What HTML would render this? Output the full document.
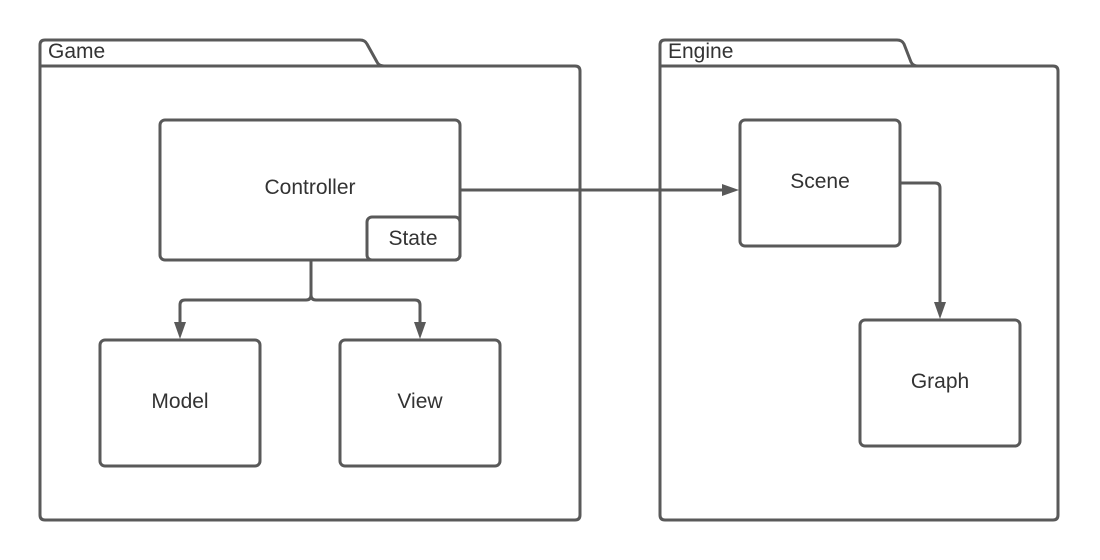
<!DOCTYPE html>
<html><head><meta charset="utf-8"><style>
html,body{margin:0;padding:0;background:#fff;}
svg{display:block}
text{font-family:"Liberation Sans",sans-serif;fill:#333;}
</style></head><body>
<svg width="1100" height="560" viewBox="0 0 1100 560" xmlns="http://www.w3.org/2000/svg">
<g fill="none" stroke="#595959" stroke-width="3" stroke-linejoin="round">
<path d="M40,66 V45 Q40,40 45,40 H360 Q365,40 367,44 L377,62 Q379,66 384,66 H575 Q580,66 580,71 V515 Q580,520 575,520 H45 Q40,520 40,515 Z"/>
<path d="M40,66 H384"/>
<path d="M660,66 V45 Q660,40 665,40 H897 Q902,40 904,44 L911,62 Q913,66 918,66 H1053 Q1058,66 1058,71 V515 Q1058,520 1053,520 H665 Q660,520 660,515 Z"/>
<path d="M660,66 H918"/>
<rect x="160" y="120" width="300" height="140" rx="5"/>
<rect x="367" y="217" width="93" height="43" rx="5"/>
<rect x="100" y="340" width="160" height="126" rx="5"/>
<rect x="340" y="340" width="160" height="126" rx="5"/>
<rect x="740" y="120" width="160" height="126" rx="5"/>
<rect x="860" y="320" width="160" height="126" rx="5"/>
<path d="M311,260 V295 Q311,300 306,300 H185 Q180,300 180,305 V324"/>
<path d="M311,295 Q311,300 316,300 H415 Q420,300 420,305 V324"/>
<path d="M460,190 H724"/>
<path d="M900,183 H935 Q940,183 940,188 V304"/>
</g>
<g fill="#595959">
<polygon points="174,322 186,322 180,339"/>
<polygon points="414,322 426,322 420,339"/>
<polygon points="722,184 722,196 739,190"/>
<polygon points="934,302 946,302 940,319"/>
</g>
<g font-size="21">
<text x="48" y="58" font-size="21">Game</text>
<text x="668" y="58" font-size="21">Engine</text>
<text x="310" y="194" text-anchor="middle">Controller</text>
<text x="413" y="245" text-anchor="middle">State</text>
<text x="180" y="408" text-anchor="middle">Model</text>
<text x="420" y="408" text-anchor="middle">View</text>
<text x="820" y="188" text-anchor="middle">Scene</text>
<text x="940" y="388" text-anchor="middle">Graph</text>
</g>
</svg>
</body></html>
